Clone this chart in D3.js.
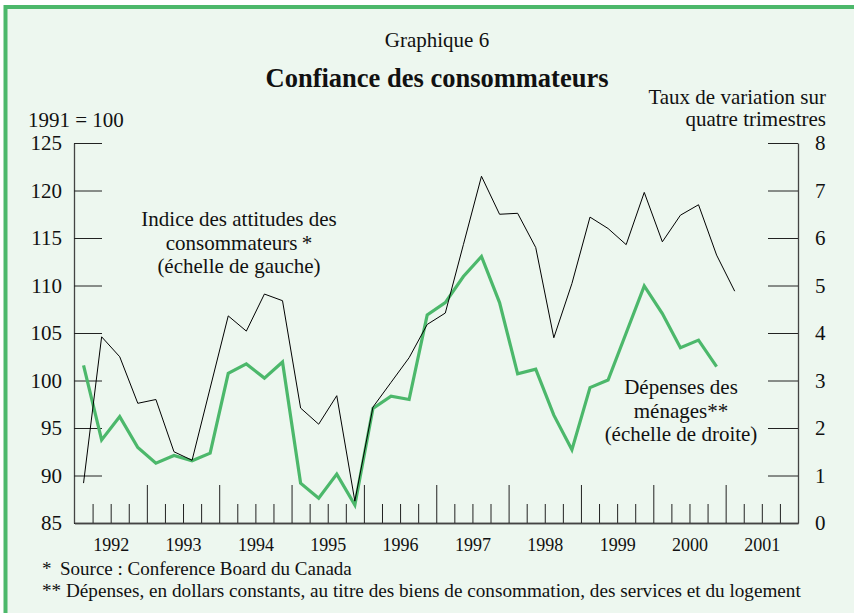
<!DOCTYPE html>
<html>
<head>
<meta charset="utf-8">
<script src="https://cdn.jsdelivr.net/npm/d3@7"></script>
<style>
  body { margin: 0; background: #fff; }
  svg text { font-family: "Liberation Serif", "Times New Roman", serif; fill: #111; }
</style>
</head>
<body>
<div class="viz"></div>
<script>
const width = 854;
const height = 613;

// quarterly data, 1992Q1 ->
const startYear = 1992;
const years = [1992, 1993, 1994, 1995, 1996, 1997, 1998, 1999, 2000, 2001];
// Indice des attitudes des consommateurs (1991 = 100), left scale
const attitudes = [89.2, 104.6, 102.5, 97.6, 98.0, 92.5, 91.6, 99.2,
    106.8, 105.2, 109.1, 108.4, 97.1, 95.4, 98.4, 87.3,
    97.2, 99.8, 102.4, 105.9, 107.1, 114.3, 121.5, 117.5,
    117.6, 114.0, 104.5, 110.2, 117.2, 116.0, 114.3, 119.8,
    114.6, 117.4, 118.5, 113.2, 109.4];
// Dépenses des ménages, taux de variation sur 4 trimestres, right scale
const depenses = [3.32, 1.75, 2.24, 1.59, 1.26, 1.42, 1.31, 1.47,
    3.15, 3.35, 3.05, 3.39, 0.84, 0.52, 1.03, 0.38,
    2.41, 2.67, 2.60, 4.38, 4.64, 5.19, 5.61, 4.64,
    3.14, 3.24, 2.27, 1.54, 2.85, 3.01, 4.0, 4.99,
    4.41, 3.69, 3.85, 3.29];
const leftTicks = [85, 90, 95, 100, 105, 110, 115, 120, 125];
const rightTicks = [0, 1, 2, 3, 4, 5, 6, 7, 8];

const green = "#4cb86b";

const svg = d3.select(".viz")
    .append("svg")
    .attr("width", width)
    .attr("height", height);

// background + frame
svg.append("rect")
    .attr("x", 5.5).attr("y", 7)
    .attr("width", 1000).attr("height", 1000)
    .attr("fill", "#edf7ef")
    .attr("stroke", green)
    .attr("stroke-width", 4);

const x = d3.scaleLinear().domain([1992, 2002]).range([74.5, 798]);
const yL = d3.scaleLinear().domain([85, 125]).range([523, 143]);
const yR = d3.scaleLinear().domain([0, 8]).range([523, 143]);

const qx = i => x(startYear + (i + 0.5) / 4);

// titles
svg.append("text").attr("x", 437).attr("y", 47)
    .attr("text-anchor", "middle").style("font-size", "21px")
    .text("Graphique 6");
svg.append("text").attr("x", 437).attr("y", 87)
    .attr("text-anchor", "middle").style("font-size", "26.5px").style("font-weight", "bold")
    .text("Confiance des consommateurs");
svg.append("text").attr("x", 28).attr("y", 127)
    .style("font-size", "21px").text("1991 = 100");
svg.append("text").attr("x", 826).attr("y", 104)
    .attr("text-anchor", "end").style("font-size", "21px").text("Taux de variation sur");
svg.append("text").attr("x", 826).attr("y", 126)
    .attr("text-anchor", "end").style("font-size", "21px").text("quatre trimestres");

// left axis
svg.append("g").attr("class", "ax")
    .attr("transform", "translate(74,0)")
    .call(d3.axisLeft(yL).tickValues(leftTicks).tickSizeInner(-28).tickSizeOuter(0).tickPadding(12));
// right axis
svg.append("g").attr("class", "ax")
    .attr("transform", "translate(798,0)")
    .call(d3.axisRight(yR).tickValues(rightTicks).tickSizeInner(-30).tickSizeOuter(0).tickPadding(17));

// bottom: year ticks, quarter ticks, year labels
const quarterVals = [];
for (let yr = 1992; yr < 2002; yr++) {
    for (let q = 1; q < 4; q++) quarterVals.push(yr + q / 4);
}
svg.append("g").attr("class", "qt")
    .attr("transform", "translate(0,523)")
    .call(d3.axisBottom(x).tickValues(quarterVals).tickSizeInner(-19).tickSizeOuter(0).tickFormat(""));
svg.append("g").attr("class", "yt")
    .attr("transform", "translate(0,523)")
    .call(d3.axisBottom(x).tickValues(years.slice(1)).tickSizeInner(-38).tickSizeOuter(0).tickFormat(""));
svg.append("g").attr("class", "yl")
    .attr("transform", "translate(0,523)")
    .call(d3.axisBottom(x).tickValues(years.map(d => d + 0.5)).tickSize(0).tickPadding(15)
        .tickFormat(d => String(Math.floor(d))));
svg.select(".yl .domain").remove();

svg.selectAll(".ax .tick text").style("font-size", "21px");
svg.selectAll(".yl .tick text").style("font-size", "18px");
svg.selectAll(".tick text")
    .style("font-family", "'Liberation Serif', 'Times New Roman', serif").attr("fill", "#111");
svg.selectAll(".domain").attr("stroke", "#444").attr("stroke-width", 1.3);
svg.selectAll(".tick line").attr("stroke", "#222").attr("stroke-width", 1);

// lines
svg.append("path")
    .datum(depenses)
    .attr("fill", "none")
    .attr("stroke", green)
    .attr("stroke-width", 3.2)
    .attr("d", d3.line().x((d, i) => qx(i)).y(d => yR(d)));

svg.append("path")
    .datum(attitudes)
    .attr("fill", "none")
    .attr("stroke", "#000")
    .attr("stroke-width", 1)
    .attr("d", d3.line().x((d, i) => qx(i)).y(d => yL(d)));

// annotations
const note1 = ["Indice des attitudes des", "consommateurs\u2009*", "(échelle de gauche)"];
svg.append("text").attr("text-anchor", "middle").style("font-size", "21px")
    .selectAll("tspan").data(note1).enter().append("tspan")
    .attr("x", 239).attr("y", (d, i) => 226 + i * 23.5).text(d => d);

const note2 = ["Dépenses des", "ménages**", "(échelle de droite)"];
svg.append("text").attr("text-anchor", "middle").style("font-size", "21px")
    .selectAll("tspan").data(note2).enter().append("tspan")
    .attr("x", 681).attr("y", (d, i) => 394 + i * 23.5).text(d => d);

// footnotes
svg.append("text").attr("x", 42).attr("y", 575).style("font-size", "19px").text("*");
svg.append("text").attr("x", 60).attr("y", 575).style("font-size", "19px")
    .text("Source : Conference Board du Canada");
svg.append("text").attr("x", 42).attr("y", 597).style("font-size", "19.2px")
    .text("** Dépenses, en dollars constants, au titre des biens de consommation, des services et du logement");
</script>
</body>
</html>
